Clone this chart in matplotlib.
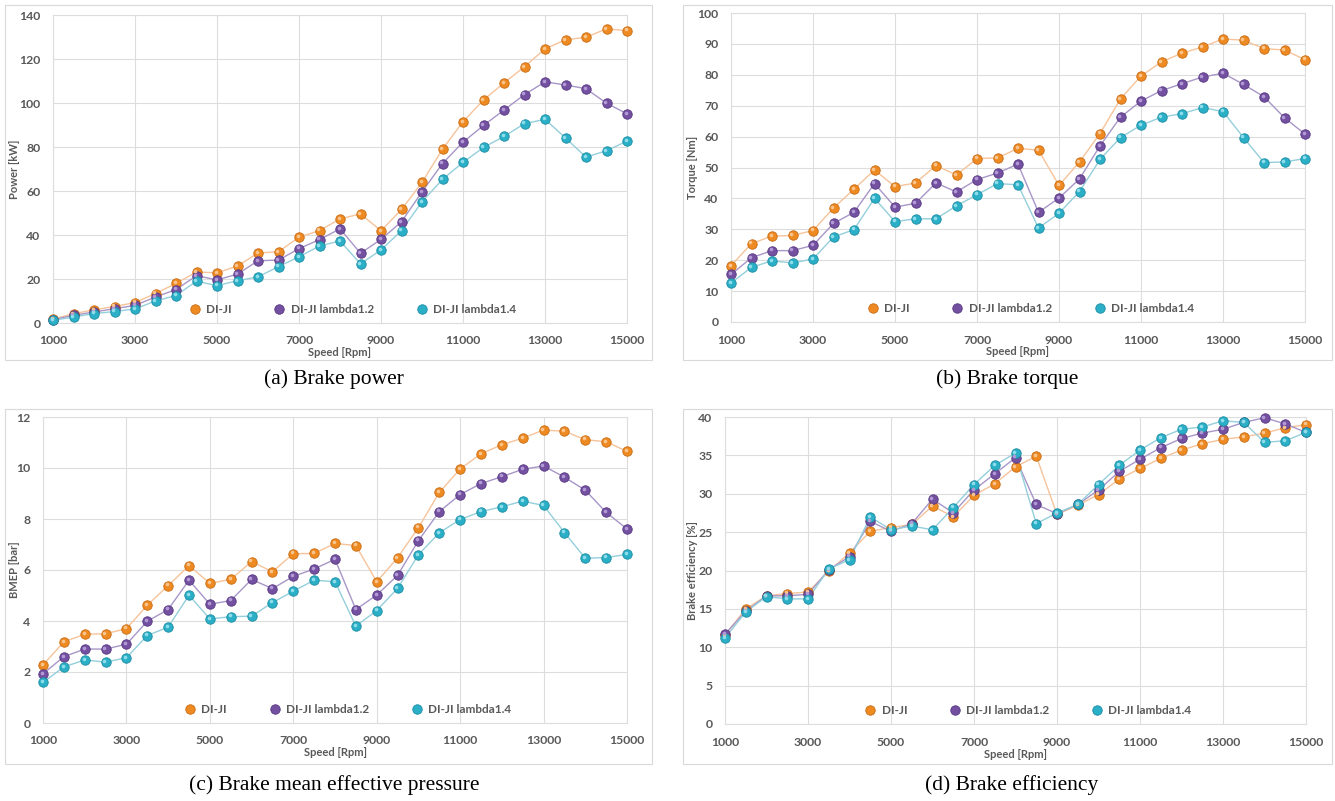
import numpy as np
import matplotlib
matplotlib.use('Agg')
import matplotlib.pyplot as plt
from matplotlib.patches import Rectangle
from matplotlib.transforms import offset_copy

# Engine speed (rpm)
speed = list(range(1000, 15001, 500))
series_names = ['DI-JI', 'DI-JI lambda1.2', 'DI-JI lambda1.4']

# (a) Brake power [kW]
power_diji = [1.8, 4.2, 6.0, 7.5, 9.3, 13.4, 18.0, 23.2, 22.8, 25.9, 31.8, 32.4, 39.0, 42.0, 47.3,
              49.6, 41.9, 51.6, 63.9, 79.0, 91.5, 101.4, 109.1, 116.5, 124.6, 128.7, 129.9, 133.7, 132.9]
power_l12 = [1.5, 3.5, 5.0, 6.5, 8.0, 11.8, 15.2, 21.5, 19.6, 22.2, 28.3, 28.6, 33.8, 37.9, 42.8,
             31.7, 38.0, 46.0, 59.6, 72.5, 82.2, 89.8, 96.8, 103.8, 109.6, 108.2, 106.5, 99.9, 95.1]
power_l14 = [1.2, 2.7, 4.3, 5.2, 6.4, 10.0, 12.5, 19.0, 17.0, 19.2, 21.0, 25.6, 30.1, 35.0, 37.3,
             26.9, 33.2, 42.0, 55.1, 65.3, 73.0, 79.8, 84.8, 90.6, 92.6, 84.1, 75.4, 78.3, 82.7]

# (b) Brake torque [Nm]
torque_diji = [18.2, 25.4, 27.8, 28.0, 29.6, 36.9, 43.0, 49.2, 43.8, 45.0, 50.6, 47.6, 52.9, 53.1, 56.2,
               55.6, 44.2, 51.8, 61.0, 72.2, 79.6, 84.2, 87.0, 89.0, 91.6, 91.2, 88.5, 88.0, 84.9]
torque_l12 = [15.4, 20.8, 23.1, 23.1, 24.8, 31.9, 35.5, 44.8, 37.2, 38.4, 45.0, 42.1, 46.1, 48.2, 51.1,
              35.5, 40.1, 46.3, 57.0, 66.3, 71.5, 74.9, 77.1, 79.3, 80.5, 76.9, 72.9, 66.1, 60.8]
torque_l14 = [12.6, 17.7, 19.8, 19.1, 20.4, 27.5, 29.9, 40.0, 32.5, 33.4, 33.4, 37.6, 41.2, 44.8, 44.4,
              30.4, 35.2, 42.2, 52.6, 59.7, 63.7, 66.3, 67.4, 69.4, 68.1, 59.7, 51.6, 51.8, 52.9]

# (c) Brake mean effective pressure [bar]
bmep_diji = [2.28, 3.18, 3.48, 3.50, 3.70, 4.62, 5.39, 6.17, 5.48, 5.63, 6.33, 5.93, 6.64, 6.65, 7.04,
             6.96, 5.54, 6.48, 7.66, 9.04, 9.96, 10.56, 10.91, 11.17, 11.49, 11.44, 11.11, 11.03, 10.65]
bmep_l12 = [1.93, 2.60, 2.90, 2.90, 3.09, 3.99, 4.45, 5.60, 4.66, 4.80, 5.63, 5.27, 5.75, 6.04, 6.42,
            4.45, 5.02, 5.79, 7.15, 8.29, 8.96, 9.39, 9.66, 9.95, 10.08, 9.64, 9.13, 8.26, 7.61]
bmep_l14 = [1.59, 2.20, 2.47, 2.39, 2.56, 3.43, 3.76, 5.01, 4.08, 4.17, 4.19, 4.72, 5.17, 5.60, 5.54,
            3.80, 4.41, 5.28, 6.60, 7.46, 7.98, 8.29, 8.48, 8.70, 8.53, 7.47, 6.46, 6.49, 6.61]

# (d) Brake efficiency [%]
eff_diji = [11.6, 15.0, 16.7, 17.0, 17.2, 19.9, 22.3, 25.1, 25.6, 26.0, 28.4, 27.0, 29.8, 31.3, 33.5,
            34.9, 27.3, 28.5, 29.9, 31.9, 33.3, 34.6, 35.7, 36.5, 37.1, 37.4, 37.9, 38.6, 39.0]
eff_l12 = [11.7, 14.7, 16.7, 16.7, 16.9, 20.1, 21.8, 26.4, 25.1, 26.1, 29.3, 27.5, 30.5, 32.6, 34.7,
           28.6, 27.4, 28.6, 30.5, 32.9, 34.5, 36.0, 37.2, 37.9, 38.4, 39.3, 39.9, 39.1, 38.0]
eff_l14 = [11.2, 14.6, 16.6, 16.3, 16.3, 20.2, 21.4, 27.0, 25.3, 25.8, 25.3, 28.2, 31.2, 33.7, 35.3,
           26.1, 27.5, 28.6, 31.2, 33.7, 35.7, 37.3, 38.4, 38.7, 39.5, 39.3, 36.7, 36.9, 38.0]

marker_colors = ['#EE8A22', '#7450A0', '#2AAFC6']
edge_colors = ['#C96A10', '#553780', '#1A8DA3']
light_colors = ['#FAC48E', '#B29AD6', '#8FDCEA']
line_colors = ['#F6C39A', '#A896C8', '#94CFDB']
grey = '#595959'
grid_col = '#DDDDDD'
ui_font = ['Lato', 'DejaVu Sans']

W, H = 1335, 801


def px_rect(x0, y0, x1, y1):
    # pixel box (top-left origin) -> figure fraction rect
    return [x0 / W, 1 - y1 / H, (x1 - x0) / W, (y1 - y0) / H]


def make_panel(fig, box, frame, data, ylim, ystep, ylabel, ylabel_x, caption, caption_x, caption_y):
    fig.patches.append(Rectangle((frame[0] / W, 1 - frame[3] / H),
                                 (frame[2] - frame[0]) / W, (frame[3] - frame[1]) / H,
                                 transform=fig.transFigure, fill=False,
                                 edgecolor='#D9D9D9', linewidth=0.8, zorder=0))
    ax = fig.add_axes(px_rect(*box))
    for i, y in enumerate(data):
        ax.plot(speed, y, '-', color=line_colors[i], linewidth=1.0, zorder=2)
        ax.plot(speed, y, 'o', color=marker_colors[i], markersize=6.8,
                markeredgecolor=edge_colors[i], markeredgewidth=0.6, zorder=3,
                label=series_names[i], clip_on=False)
        hl = offset_copy(ax.transData, fig=fig, x=-1.2, y=1.2, units='dots')
        ax.plot(speed, y, 'o', color=light_colors[i], markersize=2.6,
                markeredgewidth=0, transform=hl, zorder=4, clip_on=False)

    ax.set_xlim(1000, 15000)
    ax.set_ylim(0, ylim)
    ax.set_xticks(range(1000, 15001, 2000))
    ax.set_yticks(np.arange(0, ylim + ystep / 2, ystep))
    ax.grid(True, color=grid_col, linewidth=0.8)
    ax.set_axisbelow(True)
    for s in ax.spines.values():
        s.set_color(grid_col)
        s.set_linewidth(0.8)
    ax.tick_params(length=0, labelsize=8.8, labelcolor=grey, pad=9)
    for lab in ax.get_xticklabels() + ax.get_yticklabels():
        lab.set_family(ui_font)
        lab.set_fontweight('bold')

    fig.text(ylabel_x / W, 1 - (box[1] + box[3]) / 2 / H, ylabel, rotation=90,
             ha='center', va='center', fontsize=8, color=grey,
             family=ui_font, fontweight='bold')
    fig.text((box[0] + box[2]) / 2 / W, 1 - (box[3] + 30) / H, 'Speed [Rpm]',
             ha='center', va='center', fontsize=8, color=grey,
             family=ui_font, fontweight='bold')

    leg = ax.legend(ncol=3, loc='lower center', bbox_to_anchor=(0.52, 0.0),
                    frameon=False, handlelength=1.3, handletextpad=0.3,
                    columnspacing=3.4, borderaxespad=0.3,
                    prop={'family': ui_font, 'weight': 'bold', 'size': 8.5})
    for t in leg.get_texts():
        t.set_color(grey)

    fig.text(caption_x / W, 1 - caption_y / H, caption,
             ha='center', va='center', fontsize=15.5, family='Liberation Serif',
             color='black')
    return ax


fig = plt.figure(figsize=(W / 100, H / 100), dpi=100)

make_panel(fig, (53, 15, 627, 323), (5, 5, 652, 360),
           [power_diji, power_l12, power_l14], 140, 20, 'Power [kW]', 15,
           '(a) Brake power', 334, 379)
make_panel(fig, (731, 13, 1305, 322), (683, 5, 1332, 360),
           [torque_diji, torque_l12, torque_l14], 100, 10, 'Torque [Nm]', 693,
           '(b) Brake torque', 1007, 379)
make_panel(fig, (43, 417, 627, 723), (5, 409, 652, 764),
           [bmep_diji, bmep_l12, bmep_l14], 12, 2, 'BMEP [bar]', 15,
           '(c) Brake mean effective pressure', 334, 785)
make_panel(fig, (725, 417, 1306, 724), (683, 409, 1332, 764),
           [eff_diji, eff_l12, eff_l14], 40, 5, 'Brake efficiency [%]', 693,
           '(d) Brake efficiency', 1012, 785)

fig.savefig('out.png', dpi=100)
